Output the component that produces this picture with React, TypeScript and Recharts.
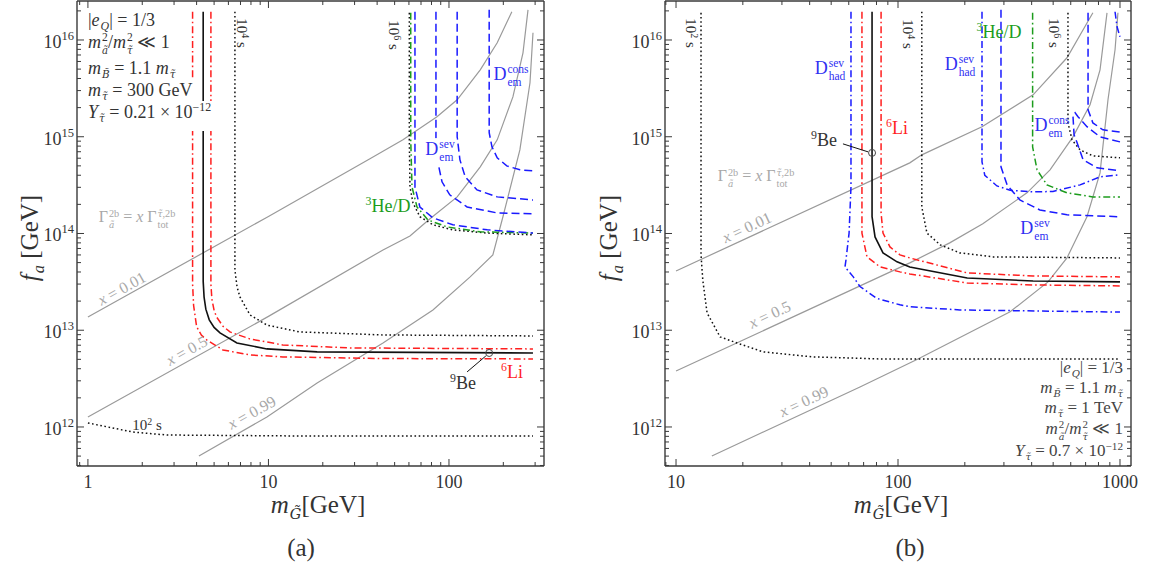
import React from 'react';
import { LineChart, Line, XAxis, YAxis, ReferenceLine, ReferenceDot } from 'recharts';

type Pt = [number, number]; // [m_G (GeV), f_a (GeV)]

const SERIF = "'Liberation Serif', 'DejaVu Serif', serif";
const AX = '#3a3a3a';
const RED = '#ff1f1f';
const BLUE = '#1a1aff';
const GREEN = '#1c9c1c';
const GRAY = '#9a9a9a';
const BLACK = '#111111';
const DASHDOT = '7 3 1.6 3';
const DASHED = '8 4';
const DOTTED = '1.6 2.6';

// ticks
const xTicksA = [0.9, 1, 2, 3, 4, 5, 6, 7, 8, 9, 10, 20, 30, 40, 50, 60, 70, 80, 90, 100, 200, 300];
const xTicksB = [9, 10, 20, 30, 40, 50, 60, 70, 80, 90, 100, 200, 300, 400, 500, 600, 700, 800, 900, 1000];
const yTicks = [
  4e11, 5e11, 6e11, 7e11, 8e11, 9e11,
  1e12, 2e12, 3e12, 4e12, 5e12, 6e12, 7e12, 8e12, 9e12,
  1e13, 2e13, 3e13, 4e13, 5e13, 6e13, 7e13, 8e13, 9e13,
  1e14, 2e14, 3e14, 4e14, 5e14, 6e14, 7e14, 8e14, 9e14,
  1e15, 2e15, 3e15, 4e15, 5e15, 6e15, 7e15, 8e15, 9e15,
  1e16, 2e16,
];
const Y_DOMAIN: [number, number] = [3.95e11, 2.53e16];
const X_DOMAIN_A: [number, number] = [0.87, 336];
const X_DOMAIN_B: [number, number] = [8.92, 1121];

// ---- panel (a): m_stau = 300 GeV ----
const aLiOuter: Pt[] = [[3.8, 1.96e16], [3.8, 3.0e13], [3.85, 1.8e13], [4.0, 1.09e13], [4.25, 8.9e12], [4.55, 7.94e12], [5.6, 6.25e12], [7.9, 5.56e12], [12, 5.3e12], [40, 5.1e12], [292, 5.05e12]];
const aBe: Pt[] = [[4.35, 1.96e16], [4.35, 3.2e13], [4.4, 2.2e13], [4.5, 1.65e13], [4.7, 1.28e13], [5.0, 1.07e13], [5.39, 9.38e12], [6.69, 7.39e12], [9.81, 6.41e12], [18.6, 5.97e12], [292, 5.82e12]];
const aLiInner: Pt[] = [[4.8, 1.96e16], [4.8, 3.0e13], [4.86, 2.1e13], [5.0, 1.6e13], [5.16, 1.37e13], [5.6, 1.1e13], [6.12, 9.6e12], [7.9, 8.13e12], [12, 7.05e12], [28.3, 6.56e12], [292, 6.41e12]];
const a1e4: Pt[] = [[6.52, 1.96e16], [6.52, 4.2e13], [6.7, 2.8e13], [6.95, 2.21e13], [7.9, 1.44e13], [9.81, 1.13e13], [14.9, 9.6e12], [43, 8.94e12], [292, 8.73e12]];
const a1e2: Pt[] = [[1, 1.1e12], [1.77, 8.87e11], [2.74, 8.26e11], [14.9, 8.07e11], [292, 8.07e11]];
const a1e6: Pt[] = [[60.3, 1.91e16], [60.3, 9.29e14], [60.8, 3.03e14], [63.2, 2.07e14], [69, 1.49e14], [81.5, 1.23e14], [105, 1.09e14], [163, 1.01e14], [292, 9.67e13]];
const aHeD: Pt[] = [[61.4, 1.91e16], [61.4, 9.29e14], [62.4, 3.03e14], [66.5, 1.88e14], [76.5, 1.38e14], [97.5, 1.17e14], [149, 1.04e14], [292, 1.01e14]];
const aDem1: Pt[] = [[64.8, 1.96e16], [64.8, 3.03e14], [69, 1.88e14], [81.5, 1.45e14], [105, 1.23e14], [163, 1.09e14], [292, 1.01e14]];
const aDem2: Pt[] = [[84.7, 1.96e16], [84.7, 7e14], [86.9, 5.37e14], [91.5, 3.42e14], [101, 2.51e14], [126, 1.88e14], [185, 1.63e14], [292, 1.6e14]];
const aDem3: Pt[] = [[111, 1.96e16], [111, 9.98e14], [115, 5.77e14], [123, 3.85e14], [143, 2.82e14], [185, 2.39e14], [292, 2.22e14]];
const aDcons: Pt[] = [[167, 2.05e16], [167, 1.1e15], [173, 7.87e14], [185, 6.05e14], [209, 5e14], [247, 4.55e14], [292, 4.44e14]];
const aX001: Pt[] = [[1, 1.37e13], [10, 1.5e14], [36.5, 5.91e14], [55.6, 9.29e14], [85.8, 1.61e15], [111, 2.41e15], [149, 4.92e15], [185, 9.35e15], [223, 1.96e16]];
const aX05: Pt[] = [[1, 1.27e12], [10, 1.39e13], [43.1, 6.76e13], [60.8, 9.44e13], [78.5, 1.42e14], [111, 2.39e14], [149, 4.89e14], [185, 9.29e14], [226, 2.58e15], [257, 7.37e15], [274, 2.05e16]];
const aX099: Pt[] = [[4.12, 5.01e11], [9.81, 1.27e12], [18.6, 2.85e12], [43.1, 7.39e12], [81.5, 1.62e13], [131, 3.56e13], [175, 6.0e13], [199, 1.49e14], [247, 7.31e14], [281, 3.61e15], [292, 1.19e16]];
const aBeDot: Pt = [167, 5.82e12];
const aBeLeader: Pt[] = [[160, 5.42e12], [126, 3.71e12]];

// ---- panel (b): m_stau = 1 TeV ----
const b1e2: Pt[] = [[12.96, 1.91e16], [12.96, 6e13], [13.2, 3.3e13], [13.8, 1.51e13], [15.8, 8.53e12], [18.8, 7.39e12], [24.7, 5.97e12], [41.4, 5.3e12], [83, 5.05e12], [1000, 5.05e12]];
const bX001: Pt[] = [[10, 4.1e13], [113, 5.37e14], [128, 6.5e14], [239, 1.27e15], [406, 2.71e15], [577, 6.55e15], [755, 1.91e16]];
const bX05: Pt[] = [[10, 3.79e12], [113, 4.97e13], [171, 8.0e13], [241, 1.26e14], [381, 2.63e14], [484, 4.55e14], [614, 9.98e14], [733, 2.14e15], [813, 4.92e15], [874, 1.91e16]];
const bX099: Pt[] = [[14.5, 5.01e11], [67.4, 2.59e12], [123, 5.05e12], [320, 1.55e13], [474, 3.16e13], [577, 5.59e13], [710, 1.49e14], [813, 4.23e14], [883, 2.41e15], [950, 7.92e15], [979, 1.91e16]];
const bDhad1: Pt[] = [[61.4, 1.96e16], [61.4, 3.03e14], [60.2, 1.01e14], [58.3, 5.33e13], [57.7, 4.51e13], [62.9, 3.56e13], [67.4, 2.83e13], [80, 2.14e13], [102, 1.83e13], [113, 1.75e13], [190, 1.62e13], [1000, 1.54e13]];
const bLiOuter: Pt[] = [[68.8, 1.96e16], [68.8, 1.01e14], [72.5, 5.73e13], [83, 4.51e13], [102, 4.01e13], [113, 3.82e13], [205, 3.08e13], [406, 2.94e13], [1000, 2.87e13]];
const bBe: Pt[] = [[76.4, 1.96e16], [76.4, 1.49e14], [78.8, 9.22e13], [85.6, 6.3e13], [99, 5.09e13], [113, 4.51e13], [205, 3.47e13], [406, 3.23e13], [1000, 3.16e13]];
const bLiInner: Pt[] = [[83.9, 1.96e16], [83.9, 1.63e14], [85.6, 1.01e14], [92, 7.26e13], [102, 6.01e13], [113, 5.59e13], [205, 3.91e13], [406, 3.64e13], [1000, 3.56e13]];
const b1e4: Pt[] = [[128, 1.96e16], [128, 1.88e14], [135, 1.01e14], [155, 7.62e13], [190, 6.3e13], [268, 5.73e13], [1000, 5.59e13]];
const bDhad2: Pt[] = [[239, 1.96e16], [239, 5.5e14], [246, 4.0e14], [279, 3.1e14], [320, 2.8e14], [406, 2.69e14], [499, 2.72e14], [661, 3.18e14], [813, 3.85e14], [1000, 4.04e14]];
const bDhad3: Pt[] = [[950, 1.96e16], [970, 1.37e16], [1000, 1.08e16]];
const bDsevEm: Pt[] = [[291, 2.05e16], [291, 4.89e14], [310, 3.18e14], [354, 2.22e14], [436, 1.75e14], [577, 1.56e14], [1000, 1.49e14]];
const bHeD: Pt[] = [[404, 1.91e16], [404, 7.87e14], [423, 4.55e14], [469, 3.18e14], [577, 2.63e14], [755, 2.39e14], [1000, 2.39e14]];
const b1e6: Pt[] = [[583, 1.91e16], [583, 1.39e15], [608, 9.29e14], [661, 7.31e14], [755, 6.34e14], [1000, 6.05e14]];
const bDconsOuter: Pt[] = [[718, 1.91e16], [718, 1.9e15], [755, 1.39e15], [838, 1.18e15], [1000, 1.12e15]];
const bDconsHook: Pt[] = [[1000, 8.85e14], [813, 9.98e14], [710, 1.27e15], [647, 1.61e15], [628, 1.77e15], [614, 1.64e15], [621, 1.05e15], [641, 8.65e14], [682, 5.77e14], [788, 4.77e14], [1000, 4.44e14]];
const bBeDot: Pt = [76.4, 6.81e14];
const bBeLeader: Pt[] = [[73.3, 6.98e14], [56.5, 8.44e14]];

type Series = { d: Pt[]; c: string; dash?: string; w?: number };

const seriesA: Series[] = [
  { d: aX001, c: GRAY, w: 1.2 },
  { d: aX05, c: GRAY, w: 1.2 },
  { d: aX099, c: GRAY, w: 1.2 },
  { d: a1e2, c: BLACK, dash: DOTTED },
  { d: a1e4, c: BLACK, dash: DOTTED },
  { d: a1e6, c: BLACK, dash: DOTTED },
  { d: aHeD, c: GREEN, dash: DASHDOT },
  { d: aDem1, c: BLUE, dash: DASHED },
  { d: aDem2, c: BLUE, dash: DASHED },
  { d: aDem3, c: BLUE, dash: DASHED },
  { d: aDcons, c: BLUE, dash: DASHED },
  { d: aLiOuter, c: RED, dash: DASHDOT },
  { d: aLiInner, c: RED, dash: DASHDOT },
  { d: aBe, c: BLACK, w: 1.6 },
  { d: aBeLeader, c: BLACK, w: 1 },
];

const seriesB: Series[] = [
  { d: bX001, c: GRAY, w: 1.2 },
  { d: bX05, c: GRAY, w: 1.2 },
  { d: bX099, c: GRAY, w: 1.2 },
  { d: b1e2, c: BLACK, dash: DOTTED },
  { d: b1e4, c: BLACK, dash: DOTTED },
  { d: b1e6, c: BLACK, dash: DOTTED },
  { d: bHeD, c: GREEN, dash: DASHDOT },
  { d: bDsevEm, c: BLUE, dash: DASHED },
  { d: bDconsOuter, c: BLUE, dash: DASHED },
  { d: bDconsHook, c: BLUE, dash: DASHED },
  { d: bDhad1, c: BLUE, dash: DASHDOT },
  { d: bDhad2, c: BLUE, dash: DASHDOT },
  { d: bDhad3, c: BLUE, dash: DASHDOT },
  { d: bLiOuter, c: RED, dash: DASHDOT },
  { d: bLiInner, c: RED, dash: DASHDOT },
  { d: bBe, c: BLACK, w: 1.6 },
  { d: bBeLeader, c: BLACK, w: 1 },
];

const toRows = (d: Pt[]) => d.map(([m, f]) => ({ m, f }));
const isDecade = (v: number) => Math.abs(Math.log10(v) - Math.round(Math.log10(v))) < 1e-6;

type Geo = { left: number; right: number; top: number; bottom: number };

function xTick(g: Geo) {
  return (p: any) => {
    const v = p.payload.value as number;
    const major = isDecade(v);
    const len = major ? 7 : 4;
    return (
      <g>
        <line x1={p.x} x2={p.x} y1={g.bottom} y2={g.bottom - len} stroke={AX} />
        <line x1={p.x} x2={p.x} y1={g.top} y2={g.top + len} stroke={AX} />
        {major && (
          <text x={p.x} y={g.bottom + 22} textAnchor="middle" fontFamily={SERIF} fontSize={18} fill="#333">
            {v}
          </text>
        )}
      </g>
    );
  };
}

function yTick(g: Geo) {
  return (p: any) => {
    const v = p.payload.value as number;
    const major = isDecade(v);
    const len = major ? 7 : 4;
    return (
      <g>
        <line x1={g.left} x2={g.left + len} y1={p.y} y2={p.y} stroke={AX} />
        <line x1={g.right} x2={g.right - len} y1={p.y} y2={p.y} stroke={AX} />
        {major && (
          <text x={g.left - 3} y={p.y + 8} textAnchor="end" fontFamily={SERIF} fontSize={18} fill="#333">
            10<tspan dy={-8} fontSize={12.5}>{Math.round(Math.log10(v))}</tspan>
          </text>
        )}
      </g>
    );
  };
}

function Panel({ x0, width, geo, xDomain, xTicks, series, dot }: {
  x0: number; width: number; geo: Geo; xDomain: [number, number]; xTicks: number[]; series: Series[]; dot: Pt;
}) {
  const H = 578;
  return (
    <div style={{ position: 'absolute', left: x0, top: 0 }}>
      <LineChart width={width} height={H} margin={{ top: geo.top, right: width - geo.right, bottom: H - geo.bottom - 30, left: 0 }}>
        <XAxis dataKey="m" type="number" scale="log" domain={xDomain} allowDataOverflow ticks={xTicks} interval={0}
          height={30} tickLine={false} axisLine={{ stroke: AX, strokeWidth: 1.4 }} tick={xTick(geo)} />
        <YAxis type="number" scale="log" domain={Y_DOMAIN} allowDataOverflow ticks={yTicks} interval={0}
          width={geo.left} tickLine={false} axisLine={{ stroke: AX, strokeWidth: 1.4 }} tick={yTick(geo)} />
        <ReferenceLine y={Y_DOMAIN[1]} stroke={AX} strokeWidth={1.4} ifOverflow="visible" />
        <ReferenceLine x={xDomain[1]} stroke={AX} strokeWidth={1.4} ifOverflow="visible" />
        {series.map((s, i) => (
          <Line key={i} data={toRows(s.d)} dataKey="f" type="linear" stroke={s.c} strokeWidth={s.w ?? 1.5}
            strokeDasharray={s.dash} dot={false} activeDot={false} isAnimationActive={false} />
        ))}
        <ReferenceDot x={dot[0]} y={dot[1]} r={3.5} fill="none" stroke="#444" strokeWidth={1} ifOverflow="visible" />
      </LineChart>
    </div>
  );
}

// ---- math-ish text helpers ----
function Sc({ sup, sub }: { sup?: React.ReactNode; sub?: React.ReactNode }) {
  if (sup != null && sub != null) {
    return (
      <span style={{ display: 'inline-block', fontSize: '0.64em', lineHeight: 1.12, verticalAlign: '-0.55em', textAlign: 'left', marginLeft: 1 }}>
        <span style={{ display: 'block' }}>{sup}</span>
        <span style={{ display: 'block' }}>{sub}</span>
      </span>
    );
  }
  if (sup != null) return <span style={{ fontSize: '0.66em', verticalAlign: '0.55em', lineHeight: 0 }}>{sup}</span>;
  return <span style={{ fontSize: '0.66em', verticalAlign: '-0.35em', lineHeight: 0, marginLeft: 1 }}>{sub}</span>;
}

// letter with a tilde accent (combining mark, DejaVu handles it well)
function Tl({ c }: { c: string }) {
  return <span style={{ fontFamily: "'DejaVu Serif', serif", fontStyle: 'italic', fontSize: '0.88em' }}>{c + '\u0303'}</span>;
}

const TAU = <Tl c={'\u03C4'} />;
const AT = <Tl c="a" />;
const BT = <Tl c="B" />;
const GT = <Tl c="G" />;

function Lbl({ x, y, rot = 0, color = '#333', size = 17, bg, children }: {
  x: number; y: number; rot?: number; color?: string; size?: number; bg?: string; children: React.ReactNode;
}) {
  return (
    <div style={{
      position: 'absolute', left: x, top: y, transform: `translate(-50%, -50%) rotate(${rot}deg)`,
      color, fontSize: size, fontFamily: SERIF, whiteSpace: 'nowrap', lineHeight: 1.15, background: bg, padding: bg ? '0 2px' : 0,
    }}>
      {children}
    </div>
  );
}

const Gamma = () => (
  <>Γ<Sc sup="2b" sub={AT} /> = <i>x</i> Γ<Sc sup={<>{TAU},2b</>} sub="tot" /></>
);

const legendA: React.ReactNode[] = [
  <>|<i>e</i><Sc sub={<i>Q</i>} />| = 1/3</>,
  <><i>m</i><Sc sup="2" sub={AT} />/<i>m</i><Sc sup="2" sub={TAU} /> ≪ 1</>,
  <><i>m</i><Sc sub={BT} /> = 1.1 <i>m</i><Sc sub={TAU} /></>,
  <><i>m</i><Sc sub={TAU} /> = 300 GeV</>,
  <><i>Y</i><Sc sub={TAU} /> = 0.21 × 10<Sc sup="−12" /></>,
];
const legendB: React.ReactNode[] = [
  <>|<i>e</i><Sc sub={<i>Q</i>} />| = 1/3</>,
  <><i>m</i><Sc sub={BT} /> = 1.1 <i>m</i><Sc sub={TAU} /></>,
  <><i>m</i><Sc sub={TAU} /> = 1 TeV</>,
  <><i>m</i><Sc sup="2" sub={AT} />/<i>m</i><Sc sup="2" sub={TAU} /> ≪ 1</>,
  <><i>Y</i><Sc sub={TAU} /> = 0.7 × 10<Sc sup="−12" /></>,
];

const LBLUE = '#2f2ff2';
const LGRAY = '#a8a8a8';

export default function App() {
  const geoA: Geo = { left: 77, right: 544, top: 1, bottom: 466 };
  const geoB: Geo = { left: 85, right: 551, top: 1, bottom: 466 };
  return (
    <div style={{ position: 'absolute', left: 0, top: 0, width: 1151, height: 578, background: '#fff', overflow: 'hidden', fontFamily: SERIF }}>
      <Panel x0={0} width={560} geo={geoA} xDomain={X_DOMAIN_A} xTicks={xTicksA} series={seriesA} dot={aBeDot} />
      <Panel x0={580} width={570} geo={geoB} xDomain={X_DOMAIN_B} xTicks={xTicksB} series={seriesB} dot={bBeDot} />

      {/* panel (a) parameter box */}
      <div style={{ position: 'absolute', left: 85, top: 9, fontSize: 18, color: '#333' }}>
        {legendA.map((t, i) => (
          <div key={i} style={{ display: 'table', height: 22, lineHeight: '22px', background: '#fff', padding: i === 4 ? '0 5px 8px 3px' : '0 5px 0 3px', whiteSpace: 'nowrap' }}>{t}</div>
        ))}
      </div>
      {/* panel (b) parameter box */}
      <div style={{ position: 'absolute', right: 28, top: 358, fontSize: 17, color: '#444', textAlign: 'right' }}>
        {legendB.map((t, i) => (
          <div key={i} style={{ height: i === 3 ? 23 : 20, lineHeight: '20px', whiteSpace: 'nowrap' }}>{t}</div>
        ))}
      </div>

      {/* panel (a) annotations */}
      <Lbl x={241} y={33} rot={90} size={15}>10<Sc sup="4" /> s</Lbl>
      <Lbl x={393} y={35} rot={90} size={15}>10<Sc sup="6" /> s</Lbl>
      <Lbl x={147} y={426} size={15}>10<Sc sup="2" /> s</Lbl>
      <Lbl x={122} y={289} rot={-29} color={LGRAY} size={16}><i>x</i> = 0.01</Lbl>
      <Lbl x={187} y={351} rot={-29} color={LGRAY} size={16}><i>x</i> = 0.5</Lbl>
      <Lbl x={252} y={413} rot={-29} color={LGRAY} size={16}><i>x</i> = 0.99</Lbl>
      <Lbl x={137} y={219} color={LGRAY} size={16}><Gamma /></Lbl>
      <Lbl x={440} y={151} color={LBLUE} size={18} bg="#fff">D<Sc sup="sev" sub="em" /></Lbl>
      <Lbl x={511} y={76} color={LBLUE} size={18}>D<Sc sup="cons" sub="em" /></Lbl>
      <Lbl x={388} y={206} color={GREEN} size={18}><Sc sup="3" />He/D</Lbl>
      <Lbl x={463} y={383} size={18}><Sc sup="9" />Be</Lbl>
      <Lbl x={512} y={372} color={RED} size={18}><Sc sup="6" />Li</Lbl>

      {/* panel (b) annotations */}
      <Lbl x={690} y={33} rot={90} size={15}>10<Sc sup="2" /> s</Lbl>
      <Lbl x={907} y={34} rot={90} size={15}>10<Sc sup="4" /> s</Lbl>
      <Lbl x={1053} y={33} rot={90} size={15}>10<Sc sup="6" /> s</Lbl>
      <Lbl x={830} y={70} color={LBLUE} size={18}>D<Sc sup="sev" sub="had" /></Lbl>
      <Lbl x={960} y={66} color={LBLUE} size={18}>D<Sc sup="sev" sub="had" /></Lbl>
      <Lbl x={897} y={128} color={RED} size={18}><Sc sup="6" />Li</Lbl>
      <Lbl x={824} y={140} size={18}><Sc sup="9" />Be</Lbl>
      <Lbl x={756} y={178} color={LGRAY} size={16}><Gamma /></Lbl>
      <Lbl x={747} y={228} rot={-25} color={LGRAY} size={16}><i>x</i> = 0.01</Lbl>
      <Lbl x={770} y={315} rot={-25} color={LGRAY} size={16}><i>x</i> = 0.5</Lbl>
      <Lbl x={804} y={402} rot={-25} color={LGRAY} size={16}><i>x</i> = 0.99</Lbl>
      <Lbl x={999} y={32} color={GREEN} size={18}><Sc sup="3" />He/D</Lbl>
      <Lbl x={1052} y={127} color={LBLUE} size={18}>D<Sc sup="cons" sub="em" /></Lbl>
      <Lbl x={1035} y={230} color={LBLUE} size={18}>D<Sc sup="sev" sub="em" /></Lbl>

      {/* axis titles */}
      <Lbl x={30} y={238} rot={-90} size={25}><i>f</i><Sc sub={<i>a</i>} /> [GeV]</Lbl>
      <Lbl x={609} y={238} rot={-90} size={25}><i>f</i><Sc sub={<i>a</i>} /> [GeV]</Lbl>
      <Lbl x={318} y={505} size={25}><i>m</i><Sc sub={GT} />[GeV]</Lbl>
      <Lbl x={901} y={505} size={25}><i>m</i><Sc sub={GT} />[GeV]</Lbl>
      <Lbl x={301} y={548} size={25}>(a)</Lbl>
      <Lbl x={910} y={548} size={25}>(b)</Lbl>
    </div>
  );
}
